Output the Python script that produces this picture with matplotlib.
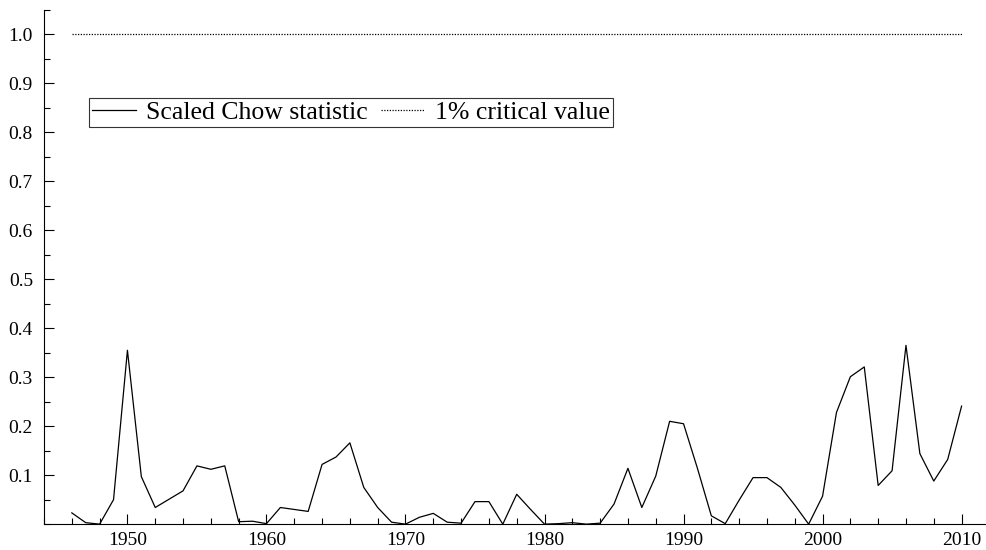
import numpy as np
import matplotlib.pyplot as plt
from matplotlib.ticker import MultipleLocator

plt.rcParams['font.family'] = ['Liberation Serif', 'DejaVu Serif']

# Years and scaled Chow statistic
years = np.arange(1946, 2011)
chow = [0.023, 0.003, 0.000, 0.050, 0.355, 0.097, 0.034, 0.051, 0.068, 0.119,
        0.112, 0.119, 0.005, 0.006, 0.001, 0.034, 0.030, 0.026, 0.122, 0.137,
        0.166, 0.075, 0.034, 0.004, 0.000, 0.014, 0.022, 0.004, 0.002, 0.046,
        0.046, 0.000, 0.061, 0.030, 0.000, 0.001, 0.003, 0.000, 0.002, 0.041,
        0.114, 0.034, 0.098, 0.210, 0.205, 0.114, 0.017, 0.001, 0.049, 0.095,
        0.095, 0.075, 0.039, 0.000, 0.057, 0.228, 0.301, 0.321, 0.079, 0.109,
        0.365, 0.144, 0.088, 0.132, 0.241]
critical = [1.0] * len(years)

fig = plt.figure(figsize=(9.87, 5.5), dpi=100)
ax = fig.add_axes([0.0446, 0.047, 0.955, 0.935])

ax.plot(years, chow, color='black', lw=0.9, label='Scaled Chow statistic')
ax.plot(years, critical, color='black', lw=0.9, linestyle=(0, (1, 1.2)),
        label='1% critical value')

ax.set_xlim(1944, 2011.8)
ax.set_ylim(0, 1.05)

ax.set_yticks(np.arange(0.1, 1.01, 0.1))
ax.set_yticklabels([f'{v:.1f}' for v in np.arange(0.1, 1.01, 0.1)])
ax.yaxis.set_minor_locator(MultipleLocator(0.05))
ax.set_xticks(np.arange(1950, 2011, 10))
ax.xaxis.set_minor_locator(MultipleLocator(2))

ax.tick_params(which='both', direction='in', labelsize=14, width=0.8,
               top=False, right=False)
ax.tick_params(which='major', length=7)
ax.tick_params(which='minor', length=4)
ax.tick_params(axis='y', pad=8)
ax.tick_params(axis='x', pad=6)

for side in ('top', 'right'):
    ax.spines[side].set_visible(False)
for side in ('left', 'bottom'):
    ax.spines[side].set_linewidth(0.8)

leg = ax.legend(loc='upper left', bbox_to_anchor=(0.048, 0.829), ncol=2,
                fontsize=18.5, frameon=True, fancybox=False, edgecolor='black',
                borderpad=0.12, handlelength=1.7, handletextpad=0.4,
                columnspacing=0.5, borderaxespad=0)
leg.get_frame().set_linewidth(0.8)

fig.savefig('out.png', dpi=100)
